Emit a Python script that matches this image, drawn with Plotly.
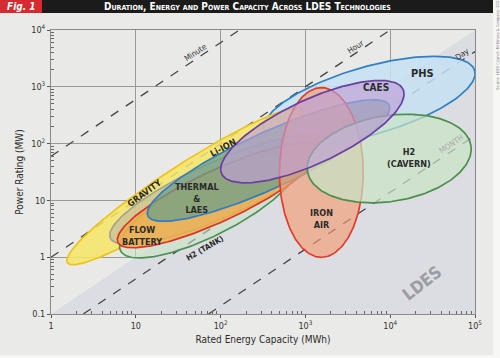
import numpy as np
import plotly.graph_objects as go

# ---------------- data ----------------
technologies = ["PHS", "Li-ION", "H2 (TANK)", "GRAVITY", "FLOW BATTERY", "THERMAL & LAES",
                "IRON AIR", "H2 (CAVERN)", "CAES"]
center_energy_mwh = [5660, 37.7, 74.3, 97.3, 94.7, 367, 1542, 9730, 1208]
center_power_mw = [568, 17.6, 8.17, 15.6, 12.2, 50.3, 31.0, 54.6, 162.5]
semi_major_decades = [1.294, 1.65, 1.18, 1.41, 1.31, 1.565, 1.00, 0.976, 1.18]
semi_minor_decades = [0.40, 0.25, 0.35, 0.33, 0.30, 0.329, 0.494, 0.506, 0.376]
tilt_deg = [16, 33, 27, 24, 25, 24.6, 90, 9, 25]

label_text = ["PHS", "Li-ION", "H2 (TANK)", "GRAVITY", "FLOW<br>BATTERY", "THERMAL<br>&<br>LAES",
              "IRON<br>AIR", "H2<br>(CAVERN)", "CAES"]
label_energy_mwh = [23800, 105.6, 64.8, 12.8, 11.8, 52.2, 1542, 16700, 6840]
label_power_mw = [1690, 85, 1.44, 13.3, 2.34, 10.8, 4.8, 56.8, 960]
label_angle = [0, -28, -30, -36, 0, 0, 0, 0, 0]

duration_names = ["Minute", "Hour", "Day", "MONTH"]
duration_hours = [1 / 60, 1, 24, 720]
duration_label_energy = [50.9, 3862, 70300, 52200]

ldes_min_duration_h = 10

x_tickvals = [1, 10, 100, 1000, 10000, 100000]
x_ticktext = ["1", "10", "10<sup>2</sup>", "10<sup>3</sup>", "10<sup>4</sup>", "10<sup>5</sup>"]
y_tickvals = [0.1, 1, 10, 100, 1000, 10000]
y_ticktext = ["0.1", "1", "10", "10<sup>2</sup>", "10<sup>3</sup>", "10<sup>4</sup>"]

# ---------------- styles ----------------
line_colors = ["#2f80c4", "#ecc41a", "#4c9152", "#a7a18e", "#d8342b", "#2f7ec2",
               "#e23b2c", "#4a8f4a", "#6b3fa0"]
fill_colors = ["rgba(196,224,242,0.85)", "rgba(246,229,100,0.85)", "rgba(200,228,196,0.60)",
               "rgba(188,184,165,0.60)", "rgba(242,172,70,0.80)", "rgba(108,160,138,0.75)",
               "rgba(242,160,120,0.68)", "rgba(200,228,196,0.70)", "rgba(190,160,215,0.65)"]
label_sizes = [11, 9, 8, 9, 9, 9, 9, 9, 10]

W, H = 500, 358
ML, MR, MT, MB = 51, 25, 30, 44
PW, PH = W - ML - MR, H - MT - MB
X_RANGE = (0, 5)
Y_RANGE = (-1, 4)
# ratio of pixel length of a y-decade to an x-decade
k = (PH / (Y_RANGE[1] - Y_RANGE[0])) / (PW / (X_RANGE[1] - X_RANGE[0]))

FONT = "Liberation Sans Narrow, DejaVu Sans Condensed, Liberation Sans, Arial, sans-serif"


def pxx(px):
    return (px - ML) / PW


def pxy(py):
    return (MT + PH - py) / PH


fig = go.Figure()

# LDES shaded region (below the minimum LDES duration line)
e_lo = 10 ** X_RANGE[0]
e_hi = 10 ** X_RANGE[1]
p_lo = 10 ** Y_RANGE[0]
p_hi = 10 ** Y_RANGE[1]
fig.add_trace(go.Scatter(
    x=[p_lo * ldes_min_duration_h, e_hi, e_hi, p_lo * ldes_min_duration_h],
    y=[p_lo, e_hi / ldes_min_duration_h, p_lo, p_lo],
    mode="lines", fill="toself", fillcolor="#dcdde3", line=dict(width=0),
    hoverinfo="skip", showlegend=False))

# duration lines
for name, d in zip(duration_names, duration_hours):
    ea = max(e_lo, p_lo * d)
    eb = min(e_hi, p_hi * d)
    fig.add_trace(go.Scatter(x=[ea, eb], y=[ea / d, eb / d], mode="lines",
                             line=dict(color="#454545", width=1.3, dash="dash"),
                             hoverinfo="skip", showlegend=False))

# technology ellipses
t = np.linspace(0, 2 * np.pi, 241)
for i, name in enumerate(technologies):
    th = np.radians(tilt_deg[i])
    a = semi_major_decades[i]
    b = semi_minor_decades[i]
    lx = np.log10(center_energy_mwh[i]) + a * np.cos(t) * np.cos(th) - b * np.sin(t) * np.sin(th)
    ly = np.log10(center_power_mw[i]) + (a * np.cos(t) * np.sin(th) + b * np.sin(t) * np.cos(th)) / k
    fig.add_trace(go.Scatter(x=10 ** lx, y=10 ** ly, mode="lines", fill="toself",
                             fillcolor=fill_colors[i],
                             line=dict(color=line_colors[i], width=1.7),
                             hoverinfo="skip", showlegend=False, name=name))

# technology labels
for i in range(len(technologies)):
    fig.add_annotation(x=np.log10(label_energy_mwh[i]), y=np.log10(label_power_mw[i]),
                       text=label_text[i], showarrow=False, textangle=label_angle[i],
                       font=dict(family=FONT, size=label_sizes[i], color="#2a2a2a", weight="bold"))

# duration labels
line_angle = -np.degrees(np.arctan(k))
shifts = [7, 6, 6, 7]
for name, d, e, s in zip(duration_names, duration_hours, duration_label_energy, shifts):
    fig.add_annotation(x=np.log10(e), y=np.log10(e / d), text=name, showarrow=False,
                       textangle=line_angle, yshift=s,
                       font=dict(family=FONT, size=8,
                                 color="#a8a8a8" if name == "MONTH" else "#333333"))

fig.add_annotation(x=np.log10(23800), y=np.log10(0.35), text="LDES", showarrow=False,
                   textangle=-38, font=dict(family=FONT, size=17, color="#9c9da4", weight="bold"))

# header bar and frame
shapes = [
    dict(type="rect", xref="paper", yref="paper", x0=pxx(0), x1=pxx(493), y0=pxy(13), y1=pxy(0),
         fillcolor="#1b1b1b", line=dict(width=0)),
    dict(type="rect", xref="paper", yref="paper", x0=pxx(0), x1=pxx(42), y0=pxy(13), y1=pxy(0),
         fillcolor="#d52a2f", line=dict(width=0)),
    dict(type="rect", xref="paper", yref="paper", x0=pxx(493), x1=pxx(500), y0=pxy(358), y1=pxy(0),
         fillcolor="#f7f7f5", line=dict(width=0)),
    dict(type="rect", xref="paper", yref="paper", x0=pxx(0), x1=pxx(500), y0=pxy(358), y1=pxy(355),
         fillcolor="#f7f7f5", line=dict(width=0)),
]
fig.add_annotation(xref="paper", yref="paper", x=pxx(21), y=pxy(6.5), xanchor="center",
                   yanchor="middle", text="<i>Fig. 1</i>",
                   showarrow=False, font=dict(family=FONT, size=10, color="white", weight="bold"))
fig.add_annotation(xref="paper", yref="paper", x=pxx(247), y=pxy(6.5), xanchor="center",
                   yanchor="middle",
                   text="Duration, Energy and Power Capacity Across LDES Technologies",
                   showarrow=False,
                   font=dict(family=FONT, size=10, color="white", weight="bold", variant="small-caps"))
fig.add_annotation(xref="paper", yref="paper", x=pxx(497), y=pxy(45), xanchor="center",
                   yanchor="middle",
                   text="Source: LDES Council, McKinsey &amp; Company, 2021",
                   showarrow=False, textangle=-90,
                   font=dict(family=FONT, size=4, color="#888888"))

minor_vals_x = [m * 10 ** e for e in range(0, 5) for m in range(2, 10)]
minor_vals_y = [m * 10 ** e for e in range(-1, 4) for m in range(2, 10)]

axis_common = dict(type="log", showgrid=True, gridcolor="#9a9a9a", gridwidth=1,
                   showline=True, linecolor="#8a8a8a", linewidth=1, mirror=True,
                   zeroline=False, ticks="outside", ticklen=3, tickcolor="#555555",
                   tickfont=dict(family=FONT, size=9, color="#333333"),
                   tickmode="array")

fig.update_layout(
    width=W, height=H,
    margin=dict(l=ML, r=MR, t=MT, b=MB),
    paper_bgcolor="#eaeae8", plot_bgcolor="#e9e9e7",
    shapes=shapes,
    xaxis=dict(**axis_common, range=list(X_RANGE), tickvals=x_tickvals, ticktext=x_ticktext,
               minor=dict(tickmode="array", tickvals=minor_vals_x, ticks="inside", ticklen=3,
                          tickcolor="#666666", showgrid=False),
               title=dict(text="Rated Energy Capacity (MWh)", standoff=6,
                          font=dict(family=FONT, size=10, color="#2a2a2a"))),
    yaxis=dict(**axis_common, range=list(Y_RANGE), tickvals=y_tickvals, ticktext=y_ticktext,
               minor=dict(tickmode="array", tickvals=minor_vals_y, ticks="inside", ticklen=3,
                          tickcolor="#666666", showgrid=False),
               title=dict(text="Power Rating (MW)", standoff=5,
                          font=dict(family=FONT, size=10, color="#2a2a2a"))),
)

fig.write_html("out.html", config={"displayModeBar": False},
               post_script="document.body.style.margin='0';")
